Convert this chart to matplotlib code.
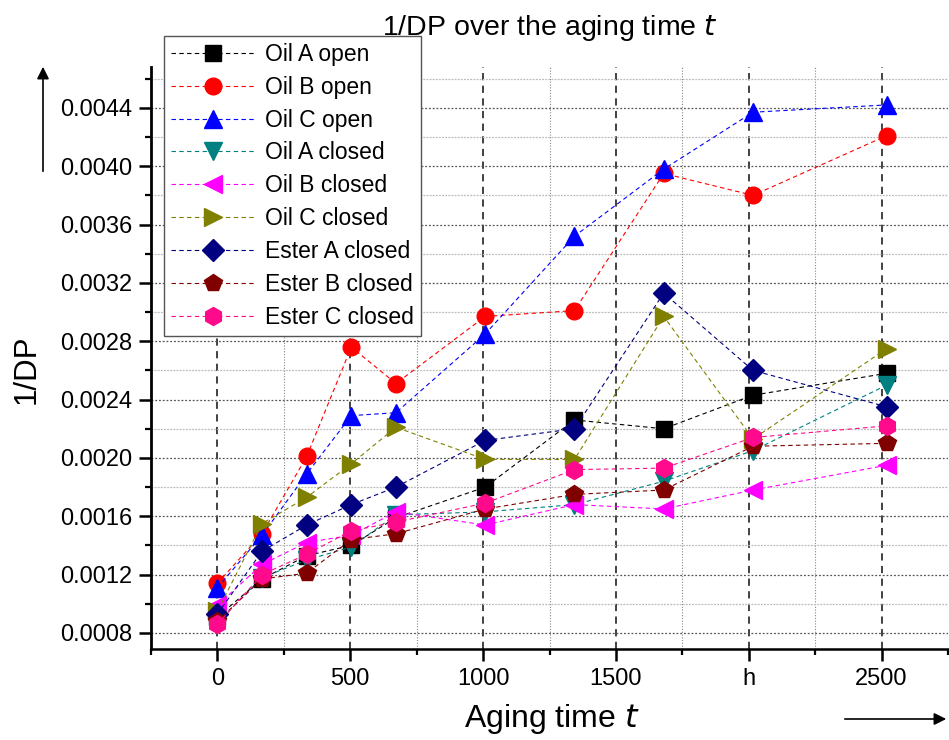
import numpy as np
import matplotlib.pyplot as plt
from matplotlib.ticker import MultipleLocator, FormatStrFormatter

plt.rcParams['font.family'] = ['Liberation Sans', 'DejaVu Sans']

# aging time in h (0, 1, 2, 3, 4, 6, 8, 10, 12, 15 weeks)
hours = [0, 168, 336, 504, 672, 1008, 1344, 1680, 2016, 2520]

oil_a_open = [0.00091, 0.00117, 0.00133, 0.00140, 0.00159, 0.00180, 0.00226, 0.00220, 0.00243, 0.00258]
oil_b_open = [0.00114, 0.00148, 0.00201, 0.00276, 0.00251, 0.00297, 0.00301, 0.00395, 0.00380, 0.00421]
oil_c_open = [0.00111, 0.00147, 0.00189, 0.00229, 0.00231, 0.00285, 0.00352, 0.00398, 0.00437, 0.00442]
oil_a_closed = [0.00087, 0.00118, 0.00130, 0.00139, 0.00161, 0.00163, 0.00168, 0.00184, 0.00205, 0.00250]
oil_b_closed = [0.00099, 0.00127, 0.00142, 0.00147, 0.00163, 0.00154, 0.00168, 0.00165, 0.00178, 0.00195]
oil_c_closed = [0.00095, 0.00155, 0.00173, 0.00196, 0.00221, 0.00199, 0.00199, 0.00297, 0.00213, 0.00275]
ester_a_closed = [0.00093, 0.00136, 0.00154, 0.00168, 0.00180, 0.00212, 0.00220, 0.00313, 0.00260, 0.00235]
ester_b_closed = [0.00088, 0.00117, 0.00121, 0.00144, 0.00148, 0.00165, 0.00175, 0.00178, 0.00208, 0.00210]
ester_c_closed = [0.00086, 0.00120, 0.00134, 0.00150, 0.00156, 0.00169, 0.00192, 0.00193, 0.00214, 0.00222]

labels = ['Oil A open', 'Oil B open', 'Oil C open', 'Oil A closed', 'Oil B closed',
          'Oil C closed', 'Ester A closed', 'Ester B closed', 'Ester C closed']
colors = ['#000000', '#FF0000', '#0000FF', '#008080', '#FF00FF',
          '#808000', '#000080', '#800000', '#FF0A8C']
markers = ['s', 'o', '^', 'v', '<', '>', 'D', 'p', 'h']
sizes = [11, 12, 13, 13, 13, 13, 11, 13, 13]

xtick_pos = [0, 500, 1000, 1500, 2000, 2500]
xtick_labels = ['0', '500', '1000', '1500', 'h', '2500']

series = [oil_a_open, oil_b_open, oil_c_open, oil_a_closed, oil_b_closed,
          oil_c_closed, ester_a_closed, ester_b_closed, ester_c_closed]

fig = plt.figure(figsize=(9.49, 7.40), dpi=100)
ax = fig.add_axes([151 / 949, 1 - 649 / 740, 797 / 949, 582 / 740])

for y, lab, c, m, ms in zip(series, labels, colors, markers, sizes):
    ax.plot(hours, y, linestyle=(0, (4, 3)), lw=0.8, color=c, marker=m, ms=ms,
            markerfacecolor=c, markeredgecolor=c, label=lab)

ax.set_xlim(-250, 2750)
ax.set_ylim(0.00069, 0.00468)
ax.set_xticks(xtick_pos)
ax.set_xticklabels(xtick_labels)
ax.xaxis.set_minor_locator(MultipleLocator(250))
ax.yaxis.set_major_locator(MultipleLocator(0.0004))
ax.yaxis.set_minor_locator(MultipleLocator(0.0002))
ax.yaxis.set_major_formatter(FormatStrFormatter('%.4f'))

ax.grid(which='major', axis='x', color='#333333', linestyle=(0, (4, 3)), lw=1.3)
ax.grid(which='minor', axis='x', color='#888888', linestyle=(0, (1, 1.5)), lw=0.8)
ax.grid(which='major', axis='y', color='#555555', linestyle=(0, (1.5, 1.5)), lw=0.9)
ax.grid(which='minor', axis='y', color='#bbbbbb', linestyle=(0, (1.5, 1)), lw=0.9)
ax.set_axisbelow(True)

for s in ['top', 'right']:
    ax.spines[s].set_visible(False)
ax.spines['left'].set_linewidth(2)
ax.spines['bottom'].set_linewidth(1.8)
ax.tick_params(which='major', direction='out', length=8.5, width=1.8, labelsize=17, pad=5)
ax.tick_params(which='minor', direction='out', length=4.5, width=1.6)

ax.set_title('1/DP over the aging time $\\mathit{t}$', fontsize=20.5, pad=23)
fig.text(552 / 949, 1 - 719 / 740, 'Aging time $\\mathit{t}$', fontsize=23, ha='center', va='center')
fig.text(27 / 949, 1 - 369 / 740, '1/DP', fontsize=22.5, rotation=90, ha='center', va='center')

leg = ax.legend(loc='upper left', bbox_to_anchor=(164 / 949, 1 - 36 / 740),
                bbox_transform=fig.transFigure, fontsize=16.5, frameon=True,
                fancybox=False, framealpha=1, edgecolor='#555555',
                handlelength=3.7, handletextpad=0.4, labelspacing=0.43,
                borderpad=0.3, borderaxespad=0)
leg.get_frame().set_linewidth(1.0)

# axis direction arrows
ax.annotate('', xy=(43 / 949, 1 - 64 / 740), xytext=(43 / 949, 1 - 174 / 740),
            xycoords='figure fraction', textcoords='figure fraction',
            arrowprops=dict(arrowstyle='-|>', color='black', lw=1.2, mutation_scale=18))
ax.annotate('', xy=(949 / 949, 1 - 719 / 740), xytext=(842 / 949, 1 - 719 / 740),
            xycoords='figure fraction', textcoords='figure fraction',
            arrowprops=dict(arrowstyle='-|>', color='black', lw=1.2, mutation_scale=18))

fig.savefig('out.png', dpi=100)
